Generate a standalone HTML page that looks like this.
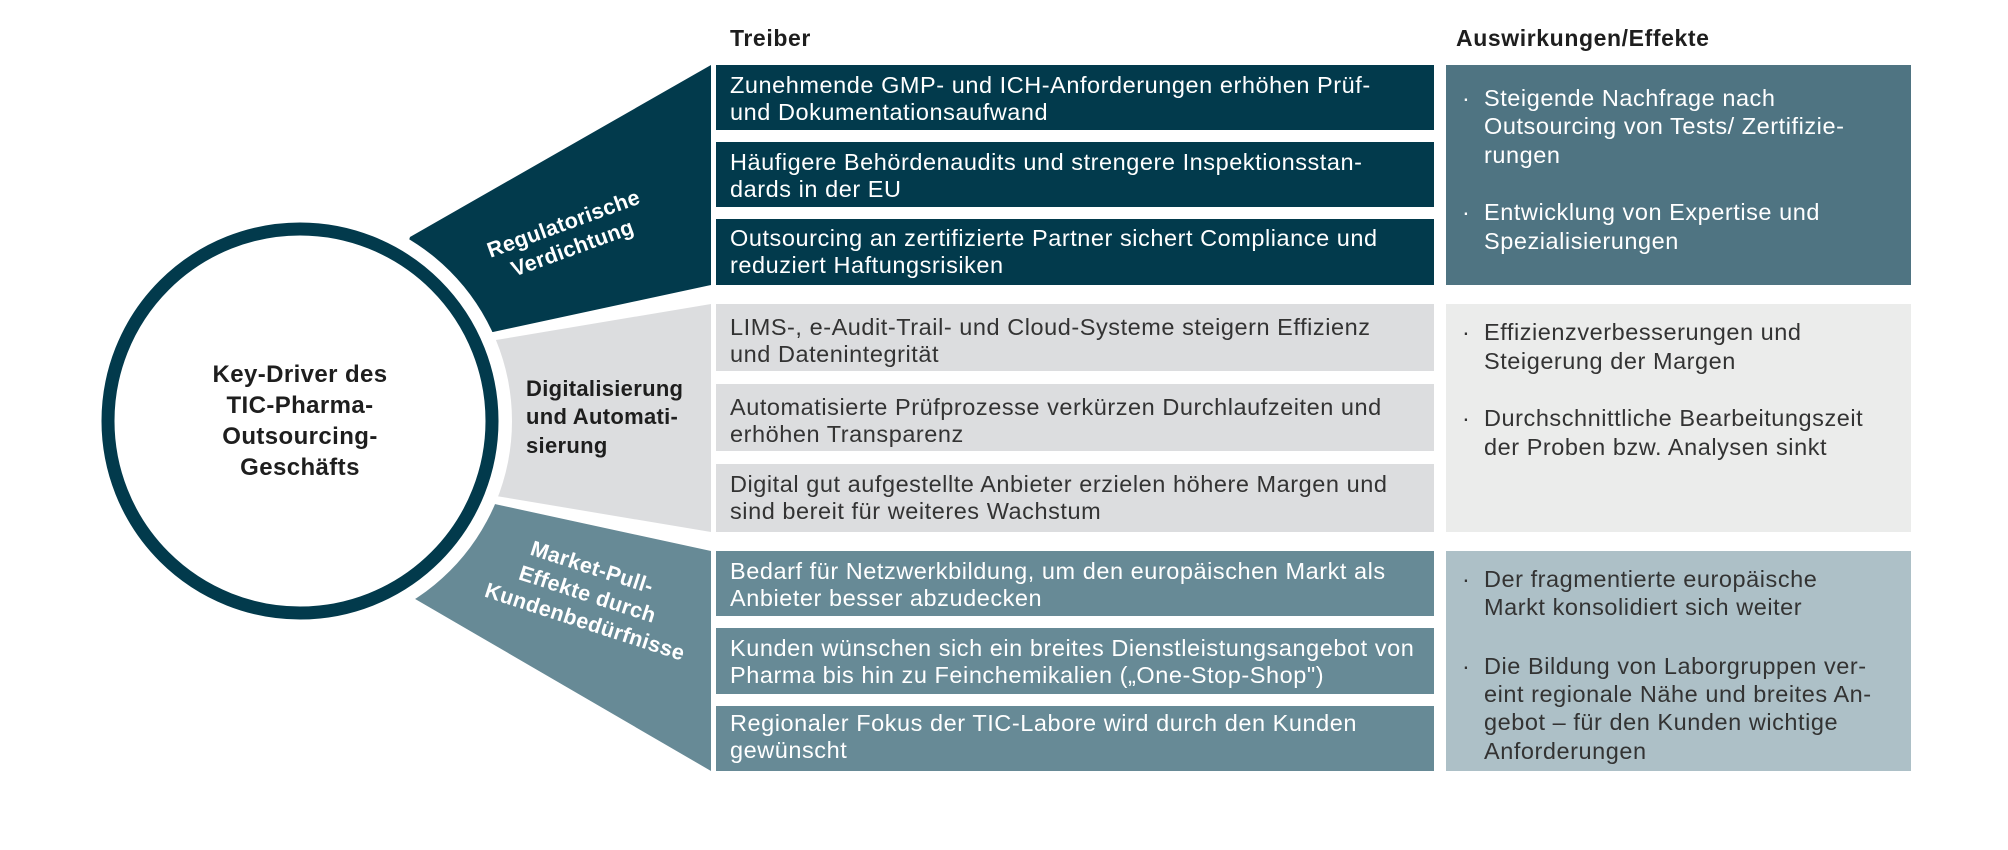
<!DOCTYPE html>
<html><head><meta charset="utf-8"><style>
html,body{margin:0;padding:0;background:#fff;}
svg{display:block;font-family:"Liberation Sans",sans-serif;}
.d{font-size:23.5px;fill:#fff;letter-spacing:0.55px;}
.g{font-size:23.5px;fill:#333;letter-spacing:0.55px;}
.h{font-size:23px;font-weight:bold;fill:#1e1e1e;letter-spacing:0.6px;}
.e{font-size:23.5px;fill:#fff;letter-spacing:0.55px;}
.eg{font-size:23.5px;fill:#333;letter-spacing:0.55px;}
.e3{font-size:23.5px;fill:#333;letter-spacing:0.55px;}
</style></head><body>
<svg width="2008" height="850" viewBox="0 0 2008 850" xmlns="http://www.w3.org/2000/svg">
<polygon points="410,237 711,65 711,285 493,332 380,332" fill="#023a4c"/>
<polygon points="496,340 711,304 711,532 496,496 430,420" fill="#dcdddf"/>
<polygon points="490,503 711,551 711,771 410,596 380,540" fill="#678a96"/>
<circle cx="300" cy="421" r="212" fill="#fff"/>
<circle cx="300" cy="421" r="192" fill="#fff" stroke="#023a4c" stroke-width="13"/>
<text class="h" x="730" y="46">Treiber</text>
<text class="h" x="1456" y="46">Auswirkungen/Effekte</text>
<rect x="716" y="65" width="718" height="65" fill="#023a4c"/>
<rect x="716" y="142" width="718" height="65" fill="#023a4c"/>
<rect x="716" y="219" width="718" height="66" fill="#023a4c"/>
<rect x="716" y="304" width="718" height="67" fill="#dcdddf"/>
<rect x="716" y="384" width="718" height="67" fill="#dcdddf"/>
<rect x="716" y="464" width="718" height="68" fill="#dcdddf"/>
<rect x="716" y="551" width="718" height="65" fill="#678a96"/>
<rect x="716" y="628" width="718" height="66" fill="#678a96"/>
<rect x="716" y="706" width="718" height="65" fill="#678a96"/>
<rect x="1446" y="65" width="465" height="220" fill="#4f7482"/>
<rect x="1446" y="304" width="465" height="228" fill="#ebeceb"/>
<rect x="1446" y="551" width="465" height="220" fill="#adc0c7"/>
<g class="d">
<text x="730" y="93">Zunehmende GMP- und ICH-Anforderungen erhöhen Prüf-</text>
<text x="730" y="120">und Dokumentationsaufwand</text>
<text x="730" y="170">Häufigere Behördenaudits und strengere Inspektionsstan-</text>
<text x="730" y="197">dards in der EU</text>
<text x="730" y="246">Outsourcing an zertifizierte Partner sichert Compliance und</text>
<text x="730" y="273">reduziert Haftungsrisiken</text>
</g>
<g class="g">
<text x="730" y="335">LIMS-, e-Audit-Trail- und Cloud-Systeme steigern Effizienz</text>
<text x="730" y="362">und Datenintegrität</text>
<text x="730" y="415">Automatisierte Prüfprozesse verkürzen Durchlaufzeiten und</text>
<text x="730" y="442">erhöhen Transparenz</text>
<text x="730" y="492">Digital gut aufgestellte Anbieter erzielen höhere Margen und</text>
<text x="730" y="519">sind bereit für weiteres Wachstum</text>
</g>
<g class="d">
<text x="730" y="579">Bedarf für Netzwerkbildung, um den europäischen Markt als</text>
<text x="730" y="606">Anbieter besser abzudecken</text>
<text x="730" y="656">Kunden wünschen sich ein breites Dienstleistungsangebot von</text>
<text x="730" y="683">Pharma bis hin zu Feinchemikalien („One-Stop-Shop")</text>
<text x="730" y="731">Regionaler Fokus der TIC-Labore wird durch den Kunden</text>
<text x="730" y="758">gewünscht</text>
</g>
<g class="e">
<text x="1462" y="106">·</text>
<text x="1484" y="106">Steigende Nachfrage nach</text>
<text x="1484" y="134">Outsourcing von Tests/ Zertifizie-</text>
<text x="1484" y="163">rungen</text>
<text x="1462" y="220">·</text>
<text x="1484" y="220">Entwicklung von Expertise und</text>
<text x="1484" y="249">Spezialisierungen</text>
</g>
<g class="eg">
<text x="1462" y="340">·</text>
<text x="1484" y="340">Effizienzverbesserungen und</text>
<text x="1484" y="369">Steigerung der Margen</text>
<text x="1462" y="426">·</text>
<text x="1484" y="426">Durchschnittliche Bearbeitungszeit</text>
<text x="1484" y="455">der Proben bzw. Analysen sinkt</text>
</g>
<g class="e3">
<text x="1462" y="587">·</text>
<text x="1484" y="587">Der fragmentierte europäische</text>
<text x="1484" y="615">Markt konsolidiert sich weiter</text>
<text x="1462" y="674">·</text>
<text x="1484" y="674">Die Bildung von Laborgruppen ver-</text>
<text x="1484" y="702">eint regionale Nähe und breites An-</text>
<text x="1484" y="730">gebot – für den Kunden wichtige</text>
<text x="1484" y="759">Anforderungen</text>
</g>
<g font-size="24" font-weight="bold" fill="#1e1e1e" text-anchor="middle" letter-spacing="0.4">
<text x="300" y="382">Key-Driver des</text>
<text x="300" y="413">TIC-Pharma-</text>
<text x="300" y="444">Outsourcing-</text>
<text x="300" y="475">Geschäfts</text>
</g>
<g font-size="21.5" font-weight="bold" fill="#fff" text-anchor="middle" transform="translate(568,236) rotate(-20)" letter-spacing="0.4">
<text x="0" y="-6">Regulatorische</text>
<text x="0" y="20">Verdichtung</text>
</g>
<g font-size="22" font-weight="bold" fill="#1e1e1e" letter-spacing="0.3">
<text x="526" y="396">Digitalisierung</text>
<text x="526" y="424">und Automati-</text>
<text x="526" y="453">sierung</text>
</g>
<g font-size="21.5" font-weight="bold" fill="#fff" text-anchor="middle" transform="translate(592,600) rotate(18)" letter-spacing="0.4">
<text x="-10" y="-24">Market-Pull-</text>
<text x="-6" y="3">Effekte durch</text>
<text x="0" y="30">Kundenbedürfnisse</text>
</g>
</svg>
</body></html>
